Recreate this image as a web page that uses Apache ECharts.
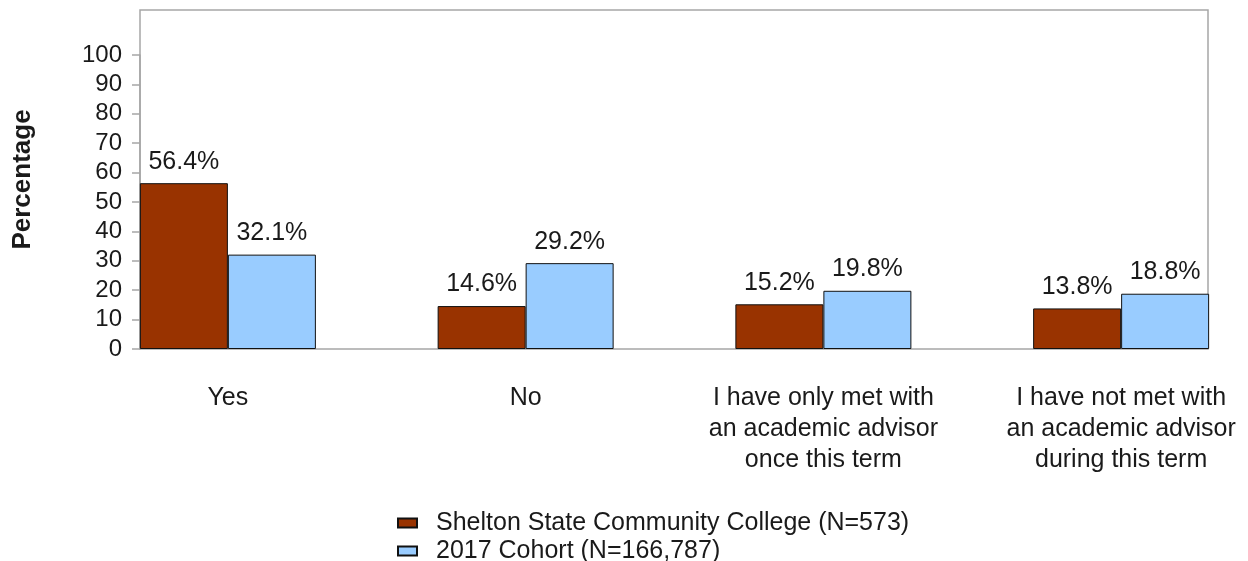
<!DOCTYPE html>
<html>
<head>
<meta charset="utf-8">
<script src="https://cdn.jsdelivr.net/npm/echarts@6/dist/echarts.min.js"></script>
<style>
  html, body { margin: 0; padding: 0; background: #fff; }
  #chart { width: 1248px; height: 561px; }
</style>
</head>
<body>
<div id="chart"></div>
<script>
// Survey responses: has the student met with an academic advisor?
const categories = [
  'Yes',
  'No',
  'I have only met with\nan academic advisor\nonce this term',
  'I have not met with\nan academic advisor\nduring this term'
];
const seriesNames = ['Shelton State Community College (N=573)', '2017 Cohort (N=166,787)'];
const collegeValues = [56.4, 14.6, 15.2, 13.8];
const cohortValues = [32.1, 29.2, 19.8, 18.8];
const yTicks = { min: 0, max: 100, step: 10 };

const FONT = '"Liberation Sans", Arial, Helvetica, sans-serif';
const TEXT = '#1a1a1a';
const FRAME = '#a6a6a6';

const chart = echarts.init(document.getElementById('chart'), null, { renderer: 'canvas' });

const label = {
  show: true,
  position: 'top',
  distance: 9,
  fontFamily: FONT,
  fontSize: 25,
  color: TEXT,
  formatter: p => p.value.toFixed(1) + '%'
};

const legendText = { fontFamily: FONT, fontSize: 25, color: TEXT, lineHeight: 28, padding: [0, 0, 0, 14] };

chart.setOption({
  animation: false,
  backgroundColor: '#fff',
  textStyle: { fontFamily: FONT },
  legend: [
    {
      orient: 'vertical', left: 397, top: 509, padding: 0,
      itemWidth: 19, itemHeight: 9, icon: 'rect',
      data: [seriesNames[0]], textStyle: legendText
    },
    {
      orient: 'vertical', left: 397, top: 537, padding: 0,
      itemWidth: 19, itemHeight: 9, icon: 'rect',
      data: [seriesNames[1]], textStyle: legendText
    }
  ],
  grid: [
    // frame around the plotting area
    { left: 140, right: 40, top: 10, bottom: 212, show: true, borderColor: FRAME, borderWidth: 1.5,
      backgroundColor: 'transparent', outerBoundsMode: 'none' },
    // value scale with ticks 0..100
    { left: 140, right: 40, top: 55, bottom: 212, outerBoundsMode: 'none' },
    // bar bands (the outer half-gaps fall outside the frame)
    { left: 79, width: 1191, top: 55, bottom: 212, outerBoundsMode: 'none' }
  ],
  xAxis: [
    { gridIndex: 0, type: 'category', data: ['a'], show: false },
    { gridIndex: 1, type: 'category', data: ['a'], show: false },
    {
      gridIndex: 2, type: 'category', data: categories,
      axisLine: { show: false }, axisTick: { show: false },
      axisLabel: { fontFamily: FONT, fontSize: 25, color: TEXT, lineHeight: 31, margin: 34, interval: 0 }
    }
  ],
  yAxis: [
    {
      gridIndex: 0, type: 'value', min: 0, max: 1,
      name: 'Percentage', nameLocation: 'middle', nameGap: 104,
      nameTextStyle: { fontFamily: FONT, fontSize: 26, fontWeight: 'bold', color: TEXT },
      axisLine: { show: false }, axisTick: { show: false }, axisLabel: { show: false }, splitLine: { show: false }
    },
    {
      gridIndex: 1, type: 'value', min: yTicks.min, max: yTicks.max, interval: yTicks.step,
      axisLine: { show: true, lineStyle: { color: FRAME, width: 1.5 } },
      axisTick: { show: true, length: 8, lineStyle: { color: FRAME, width: 1.5 } },
      axisLabel: { fontFamily: FONT, fontSize: 24, color: TEXT, margin: 18 },
      splitLine: { show: false }
    },
    { gridIndex: 2, type: 'value', min: yTicks.min, max: yTicks.max, show: false }
  ],
  series: [
    {
      name: seriesNames[0], type: 'bar', xAxisIndex: 2, yAxisIndex: 2,
      data: collegeValues, barWidth: 88, barGap: '0%',
      itemStyle: { color: '#993300', borderColor: '#111', borderWidth: 1 },
      label
    },
    {
      name: seriesNames[1], type: 'bar', xAxisIndex: 2, yAxisIndex: 2,
      data: cohortValues, barWidth: 88, barGap: '0%',
      itemStyle: { color: '#99ccff', borderColor: '#111', borderWidth: 1 },
      label
    }
  ]
});
</script>
</body>
</html>
